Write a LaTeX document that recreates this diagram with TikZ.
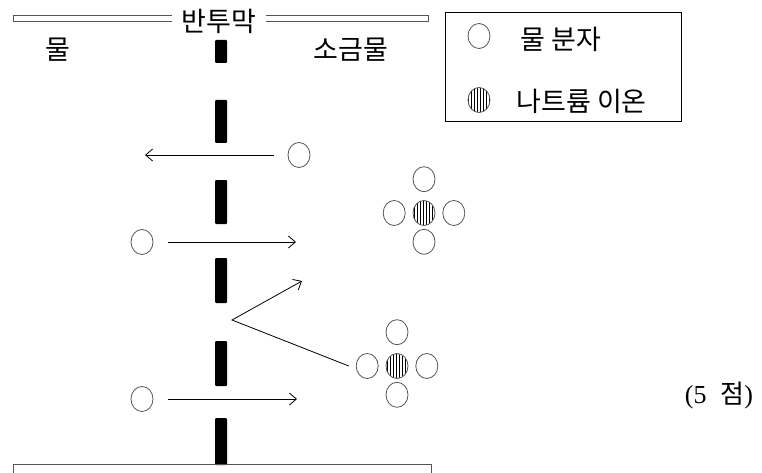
\documentclass[tikz,border=0pt]{standalone}
\usepackage{fontspec}
\setmainfont{Liberation Serif}
\newfontfamily\kr{Noto Sans CJK KR}
\usetikzlibrary{arrows.meta,patterns,shapes.geometric,positioning}
\usepackage{xcolor}
\definecolor{g1}{HTML}{555555}

\tikzset{
	water/.style = {ellipse, draw = g1, line width = .8pt,
		minimum width = 22pt, minimum height = 25pt, inner sep = 0pt},
	sodium/.style = {water, pattern = vertical lines},
	flow/.style = {-{Straight Barb[length=7pt,width=12pt]}, line width = .8pt},
	wall/.style = {fill = black, rounded corners = 1pt},
	krtext/.style = {font = \kr\fontsize{27}{32}\selectfont}
}

\begin{document}
\begin{tikzpicture} [x = 1pt, y = -1pt]
\useasboundingbox (0,0) rectangle (762,473);

% membrane:
\draw [draw = g1, line width = .6pt] (13,15) rectangle (428,21);
\node [krtext, fill = white, inner xsep = 10pt] (MB) at (219,21) {반투막};
\foreach \a/\b in {40/63, 100/143, 180/224, 258/303, 341/386, 418/465}
	\fill [wall] (215,\a) rectangle (227,\b);
\draw [draw = g1, line width = .6pt] (13,480) -- (13,464) -- (431,464) -- (431,480);

% both sides:
\node [krtext] (L) at (58,50) {물};
\node [krtext] (R) at (351,50) {소금물};

% legend:
\draw (445,12) rectangle (681,121);
\node [water] (K1) at (479,36) {};
\node [krtext, anchor = west] at (517,39) {물 분자};
\node [sodium] (K2) at (479,100) {};
\node [krtext, anchor = west] at (513,101) {나트륨 이온};

% water molecules crossing:
\node [water] (W1) at (299,155) {};
\coordinate (E1) at (145,155);
\draw [flow] ([xshift=-14pt]W1.west) -- (E1);

\node [water] (W2) at (142,242) {};
\coordinate (E2) at (296,242);
\draw [flow] ([xshift=15pt]W2.east) -- (E2);

\node [water] (W3) at (142,399) {};
\coordinate (E3) at (297,399);
\draw [flow] ([xshift=15pt]W3.east) -- (E3);

% hydrated ions:
\foreach \n/\x/\y in {A/424/213, B/397/366} {
	\node [sodium] (\n) at (\x,\y) {};
	\node [water, above = 8pt of \n] (\n1) {};
	\node [water, below = 3pt of \n] (\n2) {};
	\node [water, left = 7pt of \n] (\n3) {};
	\node [water, right = 7pt of \n] (\n4) {};
}

% bounced back:
\coordinate (H) at (232,320);
\coordinate (F) at (302,281);
\draw [flow] ([xshift=-7pt]B3.west) -- (H) -- (F);

% score:
\node [font = \fontsize{26}{30}\selectfont] (P) at (719,396) {(5\hspace{14pt}{\kr 점})};
\end{tikzpicture}
\end{document}
